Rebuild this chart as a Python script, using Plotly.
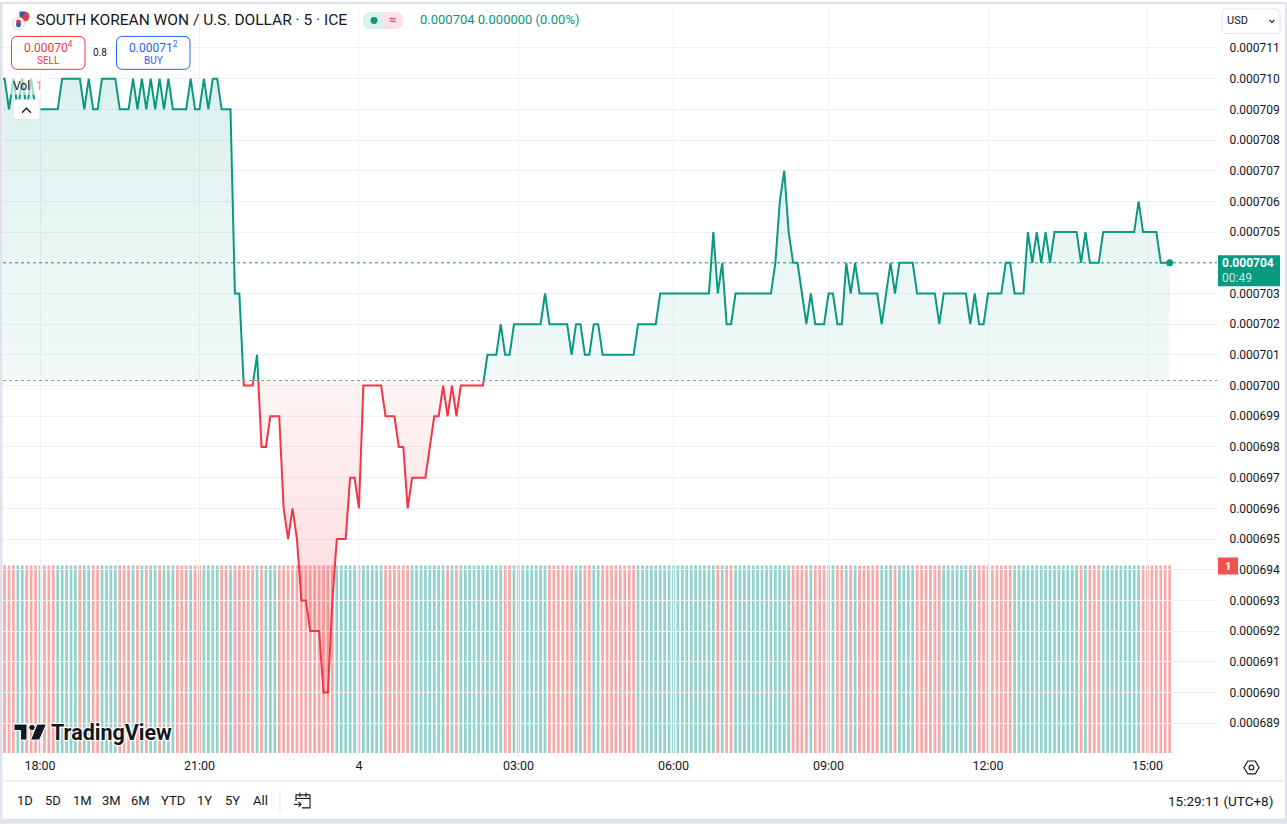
"""KRW/USD 5-minute baseline chart with volume, drawn the TradingView way"""
import pandas as pd
import plotly.graph_objects as go

# 5-minute bars from 17:15 on the 3rd to 15:25 on the 4th; two slots have no bar
slots = pd.date_range("2024-12-03 17:15", "2024-12-04 15:25", freq="5min").strftime("%H:%M")
missing_slots = ["04:30", "07:30"]
times = [t for t in slots if t not in missing_slots]

# closes in millionths of a dollar, one row per hour
close_e6 = [
    710, 710, 709, 710, 709, 710, 709, 710, 709,                 # 17
    709, 709, 709, 709, 709, 710, 710, 710, 710, 710, 709, 710,  # 18
    709, 709, 710, 710, 710, 710, 709, 709, 709, 710, 709, 710,  # 19
    709, 710, 709, 710, 709, 710, 709, 709, 709, 709, 710, 709,  # 20
    709, 710, 709, 710, 710, 709, 709, 709, 703, 703, 700, 700,  # 21
    700, 701, 698, 698, 699, 699, 699, 696, 695, 696, 695, 693,  # 22
    693, 692, 692, 692, 690, 690, 693, 695, 695, 695, 697, 697,  # 23
    696, 700, 700, 700, 700, 700, 699, 699, 699, 698, 698, 696,  # 00
    697, 697, 697, 697, 698, 699, 699, 700, 699, 700, 699, 700,  # 01
    700, 700, 700, 700, 700, 701, 701, 701, 702, 701, 701, 702,  # 02
    702, 702, 702, 702, 702, 702, 703, 702, 702, 702, 702, 702,  # 03
    701, 702, 702, 701, 701, 702, 702, 701, 701, 701, 701,       # 04
    701, 701, 701, 701, 702, 702, 702, 702, 702, 703, 703, 703,  # 05
    703, 703, 703, 703, 703, 703, 703, 703, 703, 705, 703, 704,  # 06
    702, 702, 703, 703, 703, 703, 703, 703, 703, 703, 703,       # 07
    704, 706, 707, 705, 704, 704, 703, 702, 703, 702, 702, 702,  # 08
    703, 703, 702, 702, 704, 703, 704, 703, 703, 703, 703, 703,  # 09
    702, 703, 704, 703, 704, 704, 704, 704, 703, 703, 703, 703,  # 10
    703, 702, 703, 703, 703, 703, 703, 703, 702, 703, 702, 702,  # 11
    703, 703, 703, 703, 704, 704, 703, 703, 703, 705, 704, 705,  # 12
    704, 705, 704, 705, 705, 705, 705, 705, 705, 704, 705, 704,  # 13
    704, 704, 705, 705, 705, 705, 705, 705, 705, 705, 706, 705,  # 14
    705, 705, 705, 704, 704, 704,                                # 15
]
close = [c / 1e6 for c in close_e6]

# volume bar direction per bar (u = up, d = down); every bar has a volume of 1
vol_dir = "".join([
    "dddduuddd",     # 17
    "uddduuuuuduu",  # 18
    "dduuuudddudu",  # 19
    "duuduuudddud",  # 20
    "duuuuddudddd",  # 21
    "duduuudddddd",  # 22
    "ddddddduuuuu",  # 23
    "duuuuudddddd",  # 00
    "uuuuuuuududu",  # 01
    "uuuuuuuuuddu",  # 02
    "uuuuuuuddddd",  # 03
    "duudduudddd",   # 04
    "dddduuuuuuuu",  # 05
    "uuuuuuuuuudu",  # 06
    "dduuuuuuuuu",   # 07
    "uuuudddduddd",  # 08
    "uuddududdddd",  # 09
    "uuuduuuudddd",  # 10
    "dduuuuuududd",  # 11
    "dddddduuuuuu",  # 12
    "uuuuuuuuudud",  # 13
    "dduuuuuuuuud",  # 14
    "dddddd",        # 15
])
volume = [1] * len(times)

x_ticks = ["18:00", "21:00", "00:00", "03:00", "06:00", "09:00", "12:00", "15:00"]
x_tick_text = ["18:00", "21:00", "4", "03:00", "06:00", "09:00", "12:00", "15:00"]
price_ticks = [p / 1e6 for p in range(689, 712)]
range_buttons = ["1D", "5D", "1M", "3M", "6M", "YTD", "1Y", "5Y", "All"]

# price scale, baseline sits in the middle of it
TOP, BOT = 0.0007124, 0.00068793
BASE = (TOP + BOT) / 2

FONT = "Roboto, 'Noto Sans', sans-serif"
INK = "#131722"
GREEN = "#089981"
RED = "#f23645"
GRID = "#f0f1f4"
UP_VOL = "rgba(38,166,154,0.5)"
DOWN_VOL = "rgba(239,83,80,0.5)"

W, H = 1287, 824
X0, X1, Y0, Y1 = 3, 1217, 3, 756  # plot area in page pixels


def fx(x):
    return (x - X0) / (X1 - X0)


def fy(y):
    return (Y1 - y) / (Y1 - Y0)


def text(x, y, s, size=12, color=INK, xanchor="left", shadow=None):
    font = dict(family=FONT, size=size, color=color)
    if shadow:
        font["shadow"] = shadow
    return dict(x=fx(x), y=fy(y), xref="paper", yref="paper", text=s, showarrow=False,
                xanchor=xanchor, yanchor="middle", font=font)


def rect(x0, y0, x1, y1, fill, line=None, width=0):
    return dict(type="rect", xref="paper", yref="paper", x0=fx(x0), x1=fx(x1), y0=fy(y1), y1=fy(y0),
                fillcolor=fill, line=dict(color=line or fill, width=width), layer="above")


def rrect(x0, y0, x1, y1, r, fill, line=None, width=0):
    p = lambda x, y: "%f,%f" % (fx(x), fy(y))
    path = ("M%s L%s Q%s %s L%s Q%s %s L%s Q%s %s L%s Q%s %s Z" % (
        p(x0 + r, y0), p(x1 - r, y0), p(x1, y0), p(x1, y0 + r), p(x1, y1 - r), p(x1, y1), p(x1 - r, y1),
        p(x0 + r, y1), p(x0, y1), p(x0, y1 - r), p(x0, y0 + r), p(x0, y0), p(x0 + r, y0)))
    return dict(type="path", xref="paper", yref="paper", path=path, fillcolor=fill,
                line=dict(color=line or fill, width=width), layer="above")


def poly(points, fill=None, line=INK, width=1.2, closed=False):
    path = "M" + " L".join("%f,%f" % (fx(x), fy(y)) for x, y in points) + (" Z" if closed else "")
    return dict(type="path", xref="paper", yref="paper", path=path, fillcolor=fill or "rgba(0,0,0,0)",
                line=dict(color=line, width=width), layer="above")


def circle(cx, cy, r, fill, line=None, width=0):
    return dict(type="circle", xref="paper", yref="paper", x0=fx(cx - r), x1=fx(cx + r),
                y0=fy(cy + r), y1=fy(cy - r), fillcolor=fill, line=dict(color=line or fill, width=width),
                layer="above")


fig = go.Figure()
fig.add_trace(go.Bar(x=times, y=volume, yaxis="y",
                     marker=dict(color=[UP_VOL if d == "u" else DOWN_VOL for d in vol_dir], line_width=0)))
fig.add_trace(go.Scatter(x=times, y=close, yaxis="y2", mode="lines", line=dict(color=GREEN, width=2),
                         fill="tozeroy",
                         fillgradient=dict(type="vertical", start=BASE, stop=0.000710,
                                           colorscale=[[0, "rgba(8,153,129,0.05)"], [1, "rgba(8,153,129,0.14)"]])))
fig.add_trace(go.Scatter(x=[times[0], times[-1]], y=[BASE, BASE], yaxis="y3", mode="lines", line=dict(width=0)))
fig.add_trace(go.Scatter(x=times, y=close, yaxis="y3", mode="lines", line=dict(color=RED, width=2),
                         fill="tonexty",
                         fillgradient=dict(type="vertical", start=0.000690, stop=BASE,
                                           colorscale=[[0, "rgba(242,54,69,0.22)"], [1, "rgba(242,54,69,0.05)"]])))
fig.add_trace(go.Scatter(x=[times[-1]], y=[close[-1]], yaxis="y2", mode="markers",
                         marker=dict(color=GREEN, size=7)))

price_axis = dict(anchor="x", side="right", showgrid=True, gridcolor=GRID, gridwidth=1, tickformat=".6f",
                  zeroline=False, showline=False, ticks="outside", ticklen=9, tickcolor="rgba(0,0,0,0)",
                  tickfont=dict(family=FONT, size=12, color=INK), fixedrange=True)

# the last price label on the scale stands where its own tick label would be
scale_ticks = [t for t in price_ticks if abs(t - close[-1]) > 1e-9]
upper_ticks = [p for p in scale_ticks if p > BASE]
lower_ticks = [p for p in scale_ticks if p < BASE]

shapes = [
    # baseline and last price lines
    dict(type="line", xref="paper", yref="paper", x0=0, x1=1, y0=0.5, y1=0.5,
         line=dict(color="#9598a1", width=1, dash="dot")),
    dict(type="line", xref="paper", yref="y2", x0=0, x1=1, y0=close[-1], y1=close[-1],
         line=dict(color=GREEN, width=1, dash="dot")),
    # page frame
    rect(0, 0, 2.5, H, "#e0e3eb"), rect(0, 0, W, 2, "#e0e3eb"),
    rect(1285, 0, W, H, "#e0e3eb"), rect(0, 819, W, H, "#e0e3eb"),
    # bottom toolbar separators
    dict(type="line", xref="paper", yref="paper", x0=fx(3), x1=fx(1285), y0=fy(781), y1=fy(781),
         line=dict(color="#e0e3eb", width=1)),
    dict(type="line", xref="paper", yref="paper", x0=fx(280), x1=fx(280), y0=fy(790), y1=fy(812),
         line=dict(color="#e0e3eb", width=1)),
    # flags
    circle(24.5, 14.5, 5.5, "#d9434f", "white", 1),
    rect(19.5, 9.5, 24.5, 14.5, "#3c5aa6"),
    circle(18.5, 21.5, 6, "white", "#d1d4dc", 1),
    circle(18.5, 20, 2.5, "#d9434f"), circle(18.5, 23, 2.5, "#3c5aa6"),
    # market status pill
    rrect(363, 10, 403, 27, 8, "#fbe0e9"),
    rrect(363, 10, 384, 27, 8, "#dcf1ec"), rect(376, 10, 384, 27, "#dcf1ec"),
    circle(374, 18.5, 3.5, GREEN),
    # sell / buy boxes
    rrect(11.5, 34.5, 85, 67.5, 6, "white", RED, 1),
    rrect(116.5, 34.5, 190, 67.5, 6, "white", "#2962ff", 1),
    # legend backdrop and collapse button
    rect(10, 76, 46, 93, "rgba(255,255,255,0.6)"),
    rrect(13, 98, 40, 118, 4, "white", "#e0e3eb", 1),
    poly([(22, 111), (26.5, 106.5), (31, 111)], width=1.3),
    # TradingView logo mark
    poly([(14, 724), (27, 724), (27, 740), (20.5, 740), (20.5, 730.5), (14, 730.5)], fill=INK, line="white",
         width=1, closed=True),
    circle(32, 727.5, 3.2, INK, "white", 1),
    poly([(37, 724), (46.5, 724), (39.5, 740), (30.5, 740)], fill=INK, line="white", width=1, closed=True),
    # calendar icon
    poly([(296, 801), (296, 795), (310, 795), (310, 808), (302, 808)], width=1.1),
    poly([(296, 798.5), (310, 798.5)], width=1.1),
    poly([(300, 792.5), (300, 797)], width=1.1), poly([(306, 792.5), (306, 797)], width=1.1),
    poly([(294, 804.5), (301, 804.5)], width=1.1), poly([(298.5, 802), (301, 804.5), (298.5, 807)], width=1.1),
    # settings icon
    poly([(1244, 767.5), (1247.8, 761), (1255.2, 761), (1259, 767.5), (1255.2, 774), (1247.8, 774)],
         width=1.2, closed=True),
    circle(1251.5, 767.5, 2.3, "white", INK, 1.2),
    # currency selector
    rrect(1222, 7, 1280, 31.5, 4, "white", "#e0e3eb", 1),
    poly([(1269.5, 18), (1272, 20.5), (1274.5, 18)], width=1.1),
    # last price and volume labels on the scale
    rect(1218, 254, 1280, 285, GREEN),
    rect(1218, 557, 1238, 574, "#f0524f"),
]

annotations = [
    text(34, 18, "SOUTH KOREAN WON / U.S. DOLLAR · 5 · ICE", size=15.5),
    text(387, 18, "≈", size=13, color="#e91e63"),
    text(418, 18, "0.000704 0.000000 (0.00%)", size=13, color=GREEN),
    text(48, 45, "0.00070<sup>4</sup>", size=12, color=RED, xanchor="center"),
    text(48, 59, "SELL", size=10, color=RED, xanchor="center"),
    text(100, 51, "0.8", size=10, xanchor="center"),
    text(153, 45, "0.00071<sup>2</sup>", size=12, color="#2962ff", xanchor="center"),
    text(153, 59, "BUY", size=10, color="#2962ff", xanchor="center"),
    text(11, 84, "Vol  <span style='color:rgba(242,54,69,0.6)'>1</span>", size=12),
    text(49, 732, "<b>TradingView</b>", size=21.5, shadow="auto"),
    text(1225, 19, "USD", size=11),
    text(1220, 262, "<b>0.000704</b>", size=12, color="white"),
    text(1220, 277, "00:49", size=12, color="rgba(255,255,255,0.8)"),
    text(1228, 565.5, "<b>1</b>", size=11, color="white", xanchor="center"),
    text(1275, 801, "15:29:11 (UTC+8)", size=13.5, xanchor="right"),
]
for label, cx in zip(range_buttons, [25, 53, 82, 111, 140, 172.5, 205, 232.5, 260.5]):
    annotations.append(text(cx, 801, label, size=13, xanchor="center"))

fig.update_layout(
    width=W, height=H,
    margin=dict(l=X0, r=W - X1, t=Y0, b=H - Y1, pad=0),
    paper_bgcolor="white", plot_bgcolor="rgba(0,0,0,0)",
    showlegend=False, hovermode=False, bargap=0.38,
    font=dict(family=FONT, color=INK),
    xaxis=dict(type="category", range=[0.648, 274.69], anchor="y", tickmode="array", tickvals=x_ticks,
               ticktext=x_tick_text, showgrid=True, gridcolor=GRID, gridwidth=1, zeroline=False,
               showline=False, ticks="", tickfont=dict(family=FONT, size=12.5, color=INK), fixedrange=True),
    yaxis=dict(domain=[0, 1], range=[-0.016, 3.989], visible=False, fixedrange=True),
    yaxis2=dict(domain=[0.5, 1], range=[BASE, TOP], tickmode="array", tickvals=upper_ticks, **price_axis),
    yaxis3=dict(domain=[0, 0.5], range=[BOT, BASE], tickmode="array", tickvals=lower_ticks, **price_axis),
    shapes=shapes,
    annotations=annotations,
)

fig.write_html("out.html", config={"displayModeBar": False},
               post_script="document.body.style.margin='0';document.body.style.overflow='hidden';")
